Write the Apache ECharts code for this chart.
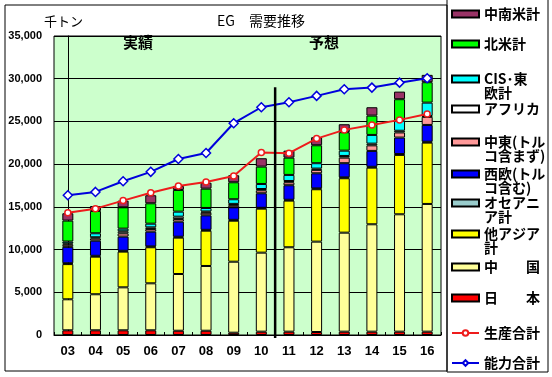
<!DOCTYPE html>
<html>
<head>
<meta charset="utf-8">
<script src="https://cdn.jsdelivr.net/npm/echarts/dist/echarts.min.js"></script>
<style>
  html, body { margin: 0; padding: 0; background: #fff; }
  #chart { width: 552px; height: 377px; }
</style>
</head>
<body>
<div id="chart"></div>
<script>
// 年度
const years = ['03', '04', '05', '06', '07', '08', '09', '10', '11', '12', '13', '14', '15', '16'];

// 地域別需要（千トン）
const japan      = [550, 550, 550, 550, 500, 500, 270, 390, 390, 350, 390, 390, 390, 390];
const china      = [3630, 4220, 5030, 5500, 6640, 7580, 8310, 9250, 9880, 10580, 11590, 12570, 13740, 14950];
const otherAsia  = [4120, 4400, 4180, 4220, 4260, 4130, 4800, 5150, 5460, 6130, 6370, 6630, 6950, 7180];
const oceania    = [100, 100, 100, 100, 100, 100, 100, 100, 100, 100, 100, 100, 100, 100];
const westEurope = [1920, 1770, 1660, 1730, 1770, 1700, 1470, 1700, 1700, 1770, 1660, 1860, 1930, 1970];
const middleEast = [250, 250, 380, 300, 300, 300, 250, 350, 350, 400, 650, 650, 600, 950];
const africa     = [150, 150, 240, 200, 280, 150, 150, 150, 150, 150, 200, 200, 200, 100];
const cisEurope  = [220, 470, 310, 430, 590, 410, 540, 590, 710, 630, 620, 1020, 1180, 1560];
const northAm    = [2450, 2610, 2500, 2390, 2540, 2260, 1990, 2030, 2020, 2100, 2160, 2260, 2510, 2390];
const latinAm    = [860, 580, 780, 940, 470, 700, 820, 980, 820, 940, 930, 980, 890, 860];

// 合計線
const production = [14320, 14790, 15730, 16660, 17450, 17920, 18620, 21350, 21280, 22990, 24010, 24590, 25180, 25880];
const capacity   = [16360, 16750, 18000, 19100, 20600, 21300, 24790, 26660, 27250, 27990, 28770, 28960, 29540, 30060];

// 実績／予想の区切り（カテゴリ位置）と縦線の範囲
const splitPos = 7.5;
const splitRange = [-350, 29000];

const yTicks = { min: 0, max: 35000, interval: 5000 };

const font = '"Noto Sans CJK JP", sans-serif';

const barDefs = [
  { name: '日本', label: '日　　本', color: '#ff0000', data: japan },
  { name: '中国', label: '中　　国', color: '#ffff99', data: china },
  { name: '他アジア計', label: '他アジア\n計', color: '#ffff00', data: otherAsia },
  { name: 'オセアニア計', label: 'オセアニ\nア計', color: '#99cccc', data: oceania },
  { name: '西欧', label: '西欧(トル\nコ含む)', color: '#0000ff', data: westEurope },
  { name: '中東', label: '中東(トル\nコ含まず)', color: '#ff9999', data: middleEast },
  { name: 'アフリカ', label: 'アフリカ', color: '#ffffff', data: africa },
  { name: 'CIS・東欧計', label: 'CIS･東\n欧計', color: '#00ffff', data: cisEurope },
  { name: '北米計', label: '北米計', color: '#00ff00', data: northAm },
  { name: '中南米計', label: '中南米計', color: '#993366', data: latinAm }
];

const labelMap = {};
barDefs.forEach(d => { labelMap[d.name] = d.label; });
labelMap['生産合計'] = '生産合計';
labelMap['能力合計'] = '能力合計';

// 凡例の並び（上から）とアイコン中心のy
const legendOrder = ['中南米計', '北米計', 'CIS・東欧計', 'アフリカ', '中東', '西欧', 'オセアニア計', '他アジア計', '中国', '日本', '生産合計', '能力合計'];
const legendIconY = [14, 44, 79, 109, 142, 174, 203, 234, 267, 298, 333, 363];

const chart = echarts.init(document.getElementById('chart'));

let series = barDefs.map(d => ({
  name: d.name,
  type: 'bar',
  stack: 'total',
  barWidth: 11,
  data: d.data,
  itemStyle: { color: d.color, borderColor: '#000', borderWidth: 1 }
}));

series.push({
  name: '生産合計',
  type: 'line',
  data: production,
  symbol: 'circle',
  symbolSize: 6,
  z: 5,
  lineStyle: { color: '#ee1c1c', width: 2 },
  itemStyle: { color: '#fff', borderColor: '#ee1c1c', borderWidth: 1.5 }
});
series.push({
  name: '能力合計',
  type: 'line',
  data: capacity,
  symbol: 'diamond',
  symbolSize: 9,
  z: 5,
  lineStyle: { color: '#0000dd', width: 2 },
  itemStyle: { color: '#fff', borderColor: '#0000dd', borderWidth: 1.5 }
});
// 実績と予想の区切り線
series.push({
  name: 'split',
  type: 'line',
  xAxisIndex: 1,
  data: [[splitPos, splitRange[0]], [splitPos, splitRange[1]]],
  symbol: 'none',
  clip: false,
  silent: true,
  z: 6,
  lineStyle: { color: '#000', width: 2.5 }
});

// 2行ラベルは先頭に空行を入れて、アイコンを1行目に揃える
const legends = legendOrder.map((name, i) => {
  const twoLine = labelMap[name].indexOf('\n') >= 0;
  return {
    data: [name],
    left: 451,
    top: legendIconY[i] - (twoLine ? 21 : 7),
    padding: 0,
    orient: 'vertical',
    itemWidth: 27,
    itemHeight: 7,
    itemGap: 0,
    icon: i < 10 ? 'rect' : undefined,
    formatter: n => (twoLine ? '\n' : '') + labelMap[n],
    textStyle: {
      fontFamily: font,
      fontSize: 14,
      fontWeight: 'bold',
      color: '#000',
      lineHeight: 14
    }
  };
});

const option = {
  animation: false,
  backgroundColor: '#fff',
  grid: {
    left: 54, right: 111, top: 36, bottom: 42,
    show: true,
    backgroundColor: '#ccffcc',
    borderColor: '#000',
    borderWidth: 1
  },
  legend: legends,
  xAxis: [{
    type: 'category',
    data: years,
    axisLine: { lineStyle: { color: '#000', width: 1 } },
    axisTick: { show: true, inside: true, length: 3, lineStyle: { color: '#000' } },
    axisLabel: { color: '#000', fontFamily: 'Liberation Sans, sans-serif', fontWeight: 'bold', fontSize: 13, margin: 10 }
  }, {
    type: 'value',
    min: -0.5,
    max: 13.5,
    show: false
  }],
  yAxis: {
    type: 'value',
    min: yTicks.min,
    max: yTicks.max,
    interval: yTicks.interval,
    axisLine: { show: true, lineStyle: { color: '#000' } },
    axisTick: { show: false },
    splitLine: { lineStyle: { color: '#000', width: 1 } },
    axisLabel: {
      color: '#000',
      fontFamily: 'Liberation Sans, sans-serif',
      fontWeight: 'bold',
      fontSize: 11,
      margin: 12,
      formatter: v => v.toLocaleString('en-US')
    }
  },
  graphic: [
    { type: 'rect', shape: { x: 5, y: 5, width: 442, height: 366 }, style: { fill: 'none', stroke: '#000', lineWidth: 1 }, z: 100 },
    { type: 'rect', shape: { x: 447, y: -1, width: 101, height: 373 }, style: { fill: 'none', stroke: '#000', lineWidth: 1 }, z: 100 },
    { type: 'text', left: 44, top: 15, style: { text: '千トン', font: '13px ' + font, fill: '#000' } },
    { type: 'text', left: 217, top: 14, style: { text: 'EG　需要推移', font: '14px ' + font, fill: '#000' } },
    { type: 'text', left: 123, top: 35, style: { text: '実績', font: 'bold 15px ' + font, fill: '#000' } },
    { type: 'text', left: 309, top: 35, style: { text: '予想', font: 'bold 15px ' + font, fill: '#000' } }
  ],
  series: series
};

chart.setOption(option);
</script>
</body>
</html>
